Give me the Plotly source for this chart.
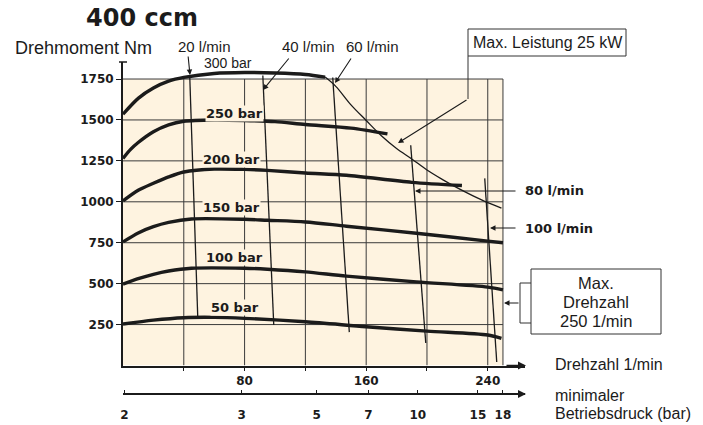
import plotly.graph_objects as go

# ---------------- data ----------------
rpm_300 = [0, 10, 20, 30, 40, 60, 80, 100, 120, 133]
nm_300 = [1535, 1632, 1695, 1737, 1760, 1784, 1790, 1787, 1778, 1762]

rpm_250 = [0, 5, 10, 20, 30, 40, 60, 80, 100, 120, 150, 174]
nm_250 = [1265, 1320, 1362, 1428, 1470, 1492, 1500, 1497, 1490, 1472, 1450, 1415]

rpm_200 = [0, 10, 20, 30, 40, 60, 80, 95, 120, 147, 190, 223]
nm_200 = [1005, 1070, 1113, 1152, 1182, 1200, 1198, 1192, 1176, 1162, 1119, 1100]

rpm_150 = [0, 10, 20, 30, 45, 80, 95, 120, 147, 193, 240, 250]
nm_150 = [755, 810, 848, 874, 895, 893, 887, 877, 851, 808, 760, 750]

rpm_100 = [0, 10, 20, 30, 45, 80, 95, 120, 147, 193, 240, 250]
nm_100 = [497, 530, 557, 577, 594, 594, 588, 572, 546, 511, 479, 462]

rpm_50 = [0, 20, 40, 60, 80, 120, 160, 200, 240, 249]
nm_50 = [253, 277, 292, 294, 288, 267, 237, 210, 186, 166]

rpm_power = [133, 140, 150, 160, 170, 180, 190, 200, 210, 220, 230, 240, 249]
nm_power = [1762, 1705, 1592, 1497, 1404, 1326, 1262, 1194, 1137, 1085, 1038, 995, 962]

flow_labels = ["20 l/min", "40 l/min", "60 l/min", "80 l/min", "100 l/min"]
flow_rpm = [[43.9, 49.2], [92.0, 99.2], [138.0, 148.9], [189.3, 199.2], [238.0, 245.9]]
flow_nm = [[1771, 290], [1771, 247], [1759, 204], [1345, 137], [1143, 21]]

pressure_curves = [
    ("300 bar", rpm_300, nm_300),
    ("250 bar", rpm_250, nm_250),
    ("200 bar", rpm_200, nm_200),
    ("150 bar", rpm_150, nm_150),
    ("100 bar", rpm_100, nm_100),
    ("50 bar", rpm_50, nm_50),
]

torque_ticks = [250, 500, 750, 1000, 1250, 1500, 1750]
speed_grid = [40, 80, 120, 160, 200, 240, 250]
speed_tick_vals = [40, 80, 120, 160, 200, 240]
speed_tick_text = ["", "80", "", "160", "", "240"]
pressure_tick_text = ["2", "3", "5", "7", "10", "15", "18"]
pressure_tick_rpm = [1, 78, 127.5, 161.5, 194, 233.5, 250]

# ---------------- layout helpers ----------------
W, H = 703, 425
L, R, T, B = 123, 525, 62, 394
X_AX = 365.5  # pixel row of the speed axis


def px(x):
    return (x - L) / (R - L)


def py(y):
    return (B - y) / (B - T)


INK = "#1b1b1b"
CREAM = "#fef3e0"
SANS = "Liberation Sans, Arial, sans-serif"
BOLD = "DejaVu Sans, sans-serif"

fig = go.Figure()

# pressure curves
for name, xs, ys in pressure_curves:
    fig.add_trace(go.Scatter(x=xs, y=ys, mode="lines", name=name,
                             line=dict(color=INK, width=3.4, shape="spline", smoothing=0.8),
                             hoverinfo="skip", showlegend=False))

# max power curve
fig.add_trace(go.Scatter(x=rpm_power, y=nm_power, mode="lines",
                         line=dict(color=INK, width=1.3, shape="spline"),
                         hoverinfo="skip", showlegend=False))

# flow lines
for lab, xs, ys in zip(flow_labels, flow_rpm, flow_nm):
    fig.add_trace(go.Scatter(x=xs, y=ys, mode="lines", name=lab,
                             line=dict(color=INK, width=1.3),
                             hoverinfo="skip", showlegend=False))

# dummy trace for the pressure scale axis
fig.add_trace(go.Scatter(x=[0, 250], y=[0, 0], xaxis="x2", mode="lines",
                         line=dict(width=0), hoverinfo="skip", showlegend=False))

shapes = []
# cream field
shapes.append(dict(type="rect", xref="x", yref="y", x0=0, x1=250, y0=0, y1=1750,
                   fillcolor=CREAM, line=dict(width=0), layer="below"))
# grid
for g in speed_grid:
    shapes.append(dict(type="line", xref="x", yref="y", x0=g, x1=g, y0=0, y1=1750,
                       line=dict(color="#3a3a3a", width=1), layer="below"))
for g in torque_ticks:
    shapes.append(dict(type="line", xref="x", yref="y", x0=0, x1=250, y0=g, y1=g,
                       line=dict(color="#3a3a3a", width=1), layer="below"))
# T cap of torque axis
shapes.append(dict(type="line", xref="paper", yref="paper", x0=px(119), x1=px(127),
                   y0=py(62), y1=py(62), line=dict(color=INK, width=1.5)))
# boxes
shapes.append(dict(type="rect", xref="paper", yref="paper", x0=px(468), x1=px(626),
                   y0=py(56), y1=py(29), line=dict(color="#333", width=1)))
shapes.append(dict(type="rect", xref="paper", yref="paper", x0=px(531), x1=px(661),
                   y0=py(334), y1=py(269), line=dict(color="#333", width=1)))
# leader of max power box
shapes.append(dict(type="line", xref="paper", yref="paper", x0=px(468), x1=px(468),
                   y0=py(56), y1=py(99), line=dict(color="#333", width=1)))
# bracket of max speed box
shapes.append(dict(type="path", xref="paper", yref="paper",
                   path=f"M {px(531)} {py(283)} L {px(520)} {py(283)} L {px(520)} {py(323)} L {px(531)} {py(323)}",
                   line=dict(color="#333", width=1)))

ann = []


def text(x, y, s, size, family=SANS, weight=400, xanchor="center", bg=None):
    d = dict(xref="paper", yref="paper", x=px(x), y=py(y), text=s, showarrow=False,
             xanchor=xanchor, yanchor="middle",
             font=dict(family=family, size=size, color=INK, weight=weight))
    if bg:
        d["bgcolor"] = bg
        d["borderpad"] = 0
    ann.append(d)


def arrow(tipx, tipy, tailx, taily, width=1.1, head=2, size=1.0):
    ann.append(dict(xref="paper", yref="paper", x=px(tipx), y=py(tipy), text="",
                    showarrow=True, ax=tailx - tipx, ay=taily - tipy,
                    arrowhead=head, arrowsize=size, arrowwidth=width, arrowcolor=INK,
                    standoff=0, startstandoff=0))


text(142, 18, "400 ccm", 24, BOLD, 700)
text(13, 48, "Drehmoment Nm", 18, xanchor="left")
text(204, 46, "20 l/min", 15)
text(308, 46, "40 l/min", 15)
text(372, 46, "60 l/min", 15)
text(548, 43, "Max. Leistung 25 kW", 16)
text(523, 191, "80 l/min", 13, BOLD, 700, xanchor="left")
text(523, 228, "100 l/min", 13, BOLD, 700, xanchor="left")
text(596, 283, "Max.", 16.5)
text(596, 302, "Drehzahl", 16.5)
text(596, 321, "250 1/min", 16.5)
text(553, 364, "Drehzahl 1/min", 16, xanchor="left")
text(553, 395, "minimaler", 16, xanchor="left")
text(553, 413, "Betriebsdruck (bar)", 16, xanchor="left")

text(228, 63, "300 bar", 14)
text(234, 113, "250 bar", 13, BOLD, 700, bg=CREAM)
text(231, 159, "200 bar", 13, BOLD, 700, bg=CREAM)
text(231, 207, "150 bar", 13, BOLD, 700, bg=CREAM)
text(234, 257, "100 bar", 13, BOLD, 700, bg=CREAM)
text(235, 307, "50 bar", 13, BOLD, 700, bg=CREAM)

arrow(190, 75, 188, 55)
arrow(263, 90, 290, 57)
arrow(335, 83, 352, 57)
arrow(398, 143, 468, 99)
arrow(415, 191, 517, 191)
arrow(490, 228, 517, 228)
arrow(504, 303, 520, 303)
arrow(526, X_AX, 505, X_AX, width=1.6)
arrow(526, B, 505, B, width=1.6)

fig.update_layout(
    width=W, height=H,
    margin=dict(l=L, r=W - R, t=T, b=H - B, pad=0, autoexpand=False),
    paper_bgcolor="white", plot_bgcolor="white",
    shapes=shapes, annotations=ann,
    xaxis=dict(range=[0, 264.5], showgrid=False, zeroline=False, showline=True,
               linecolor=INK, linewidth=2, ticks="outside", ticklen=3, tickcolor=INK,
               tickvals=speed_tick_vals, ticktext=speed_tick_text,
               tickfont=dict(family=BOLD, size=12, color=INK, weight=700),
               anchor="y", fixedrange=True, automargin=False),
    xaxis2=dict(range=[0, 264.5], overlaying="x", anchor="free", position=0, side="bottom",
                showgrid=False, zeroline=False, showline=True, linecolor=INK, linewidth=2,
                ticks="inside", ticklen=3, tickcolor=INK,
                tickvals=pressure_tick_rpm, ticktext=pressure_tick_text,
                tickfont=dict(family=BOLD, size=12, color=INK, weight=700),
                ticklabelstandoff=10, fixedrange=True, automargin=False),
    yaxis=dict(range=[0, 1854], domain=[py(X_AX), 1], showgrid=False, zeroline=False,
               showline=True, linecolor=INK, linewidth=2, ticks="outside", ticklen=5,
               tickcolor=INK, tickvals=torque_ticks,
               tickfont=dict(family=BOLD, size=12, color=INK, weight=700),
               fixedrange=True, automargin=False),
)

fig.write_html("out.html", config={"displayModeBar": False},
               post_script="document.body.style.margin='0';document.body.style.padding='0';")
